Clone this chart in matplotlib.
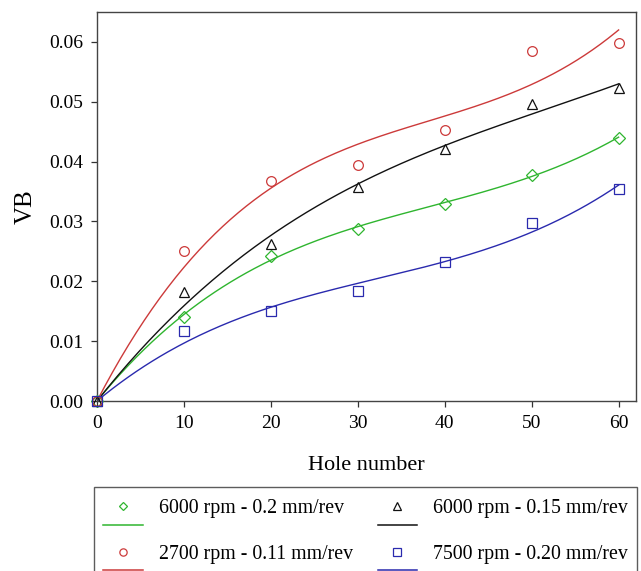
import numpy as np
import matplotlib
matplotlib.use('Agg')
import matplotlib.pyplot as plt
from matplotlib.lines import Line2D
from matplotlib.legend_handler import HandlerBase

plt.rcParams['font.family'] = ['Liberation Serif', 'DejaVu Serif']

holes = [0, 10, 20, 30, 40, 50, 60]

labels = ['6000 rpm - 0.2 mm/rev', '6000 rpm - 0.15 mm/rev',
          '2700 rpm - 0.11 mm/rev', '7500 rpm - 0.20 mm/rev']
vb_6000_02 = [0.0, 0.0140, 0.0243, 0.0287, 0.0330, 0.0378, 0.0440]
vb_6000_015 = [0.0, 0.0182, 0.0263, 0.0358, 0.0421, 0.0496, 0.0523]
vb_2700_011 = [0.0, 0.0250, 0.0367, 0.0395, 0.0452, 0.0584, 0.0599]
vb_7500_020 = [0.0, 0.0117, 0.0150, 0.0183, 0.0233, 0.0297, 0.0354]

series = [vb_6000_02, vb_6000_015, vb_2700_011, vb_7500_020]
colors = ['#2fb52f', '#111111', '#cc3a3a', '#2a2aae']
markers = ['D', '^', 'o', 's']
msizes = [6, 7, 7, 7]


def fit_origin_cubic(x, y):
    # least squares cubic forced through the origin
    x = np.asarray(x, float)
    A = np.column_stack([x, x ** 2, x ** 3])
    coef = np.linalg.lstsq(A, np.asarray(y, float), rcond=None)[0]
    xs = np.linspace(0, x.max(), 200)
    return xs, coef[0] * xs + coef[1] * xs ** 2 + coef[2] * xs ** 3


class MarkerOverLine(HandlerBase):
    def create_artists(self, legend, orig_handle, xdescent, ydescent,
                       width, height, fontsize, trans):
        c = orig_handle.get_color()
        yc = 0.36 * fontsize
        xc = width / 2.0 - xdescent
        mk = Line2D([xc], [yc], marker=orig_handle.get_marker(), ls='none',
                    markersize=orig_handle.get_markersize() * 0.75,
                    markerfacecolor='none', markeredgecolor=c,
                    markeredgewidth=0.9, transform=trans)
        ln = Line2D([-xdescent, width - xdescent],
                    [yc - 0.95 * fontsize] * 2, color=c, lw=1.1,
                    transform=trans)
        return [mk, ln]


fig = plt.figure(figsize=(6.41, 5.71), dpi=100)
ax = fig.add_axes([0.1513, 0.2977, 0.8409, 0.6813])

handles = []
for y, c, m, ms in zip(series, colors, markers, msizes):
    xs, ys = fit_origin_cubic(holes, y)
    ax.plot(xs, ys, color=c, lw=1.0)
    ax.plot(holes, y, ls='none', marker=m, markersize=ms,
            markerfacecolor='none', markeredgecolor=c, markeredgewidth=0.9,
            clip_on=False, zorder=3)
    handles.append(Line2D([], [], color=c, marker=m, markersize=ms))

ax.set_xlim(0, 62)
ax.set_ylim(0, 0.065)
ax.set_xticks([0, 10, 20, 30, 40, 50, 60])
ax.set_yticks([0.0, 0.01, 0.02, 0.03, 0.04, 0.05, 0.06])
ax.yaxis.set_major_formatter(matplotlib.ticker.FormatStrFormatter('%.2f'))
ax.tick_params(direction='out', length=4, width=0.9, labelsize=14, pad=6,
               color='#333333')
for s in ax.spines.values():
    s.set_color('#444444')
    s.set_linewidth(1.0)
ax.set_xlabel('Hole number', fontsize=16, labelpad=17)
ax.set_ylabel('VB', fontsize=18, labelpad=9)

# legend fills column by column, so order entries to read row by row
order = [0, 2, 1, 3]
lgd = fig.legend([handles[i] for i in order], [labels[i] for i in order],
                 loc='upper left', bbox_to_anchor=(94 / 641, 1 - 487 / 571),
                 ncol=2, handler_map={Line2D: MarkerOverLine()}, fontsize=14.3,
                 frameon=True, fancybox=False, edgecolor='#333333',
                 handlelength=2.0, handleheight=1.3, handletextpad=0.8,
                 columnspacing=1.25, labelspacing=1.15, borderpad=0.45,
                 borderaxespad=0.0)
lgd.get_frame().set_linewidth(1.0)

fig.savefig('out.png', dpi=100)
